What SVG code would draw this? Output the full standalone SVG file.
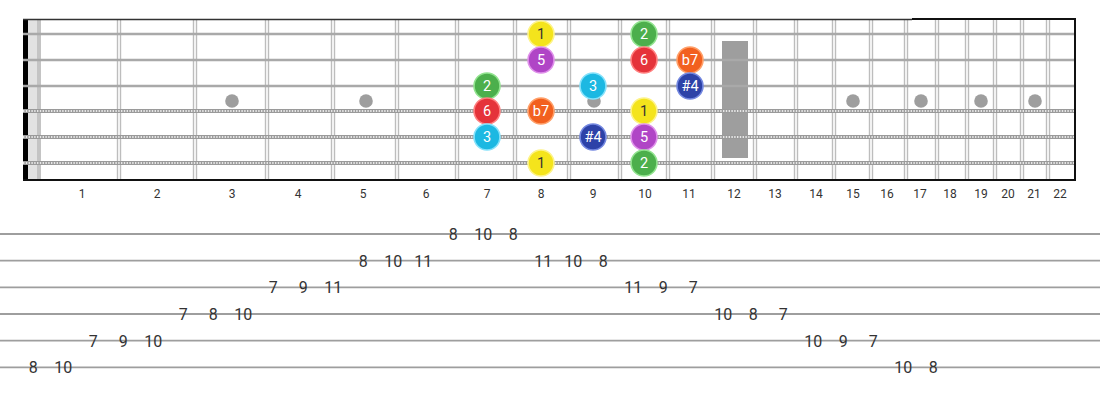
<svg xmlns="http://www.w3.org/2000/svg" width="1100" height="400" viewBox="0 0 1100 400">
<style>
.fw{stroke:#bdbdbd;stroke-width:1.4}
.plain{stroke:#a9a9a9;stroke-width:2.6}
.wound{stroke:#9a9a9a;stroke-width:4}
.woundd{stroke:#e6e6e6;stroke-width:2;stroke-dasharray:1.4 1.4}
.dot{fill:#9e9e9e}
.fn{font-family:Roboto,"Liberation Sans",sans-serif;font-size:12px;fill:#333;text-anchor:middle}
.nt{font-family:Roboto,"Liberation Sans",sans-serif;font-size:14.5px;fill:#fff;text-anchor:middle}
.dk{fill:#333}
.tl{stroke:#9e9e9e;stroke-width:1.8}
.tn{font-family:Roboto,"Liberation Sans",sans-serif;font-size:16px;fill:#333;text-anchor:middle}
.c1{fill:#f4e41c;stroke:#fdf38a;stroke-width:1.6}
.c2{fill:#4caf4c;stroke:#92e38f;stroke-width:1.6}
.c3{fill:#1cb8e2;stroke:#86e2fb;stroke-width:1.6}
.c4{fill:#2d42a8;stroke:#7488e0;stroke-width:1.6}
.c5{fill:#b045c6;stroke:#df90ea;stroke-width:1.6}
.c6{fill:#e5333a;stroke:#ff8080;stroke-width:1.6}
.c7{fill:#f2601f;stroke:#ffa06a;stroke-width:1.6}
</style>
<rect width="1100" height="400" fill="#fff"/>
<g id="fretboard">
<rect x="28" y="20" width="13" height="160" fill="#e2e2e2"/>
<rect x="37" y="20" width="4" height="160" fill="#c4c4c4"/>
<rect x="23" y="19" width="5" height="162" fill="#000"/>
<g id="frets">
<line class="fw" x1="117.5" y1="20" x2="117.5" y2="180"/><line class="fw" x1="120.5" y1="20" x2="120.5" y2="180"/>
<line class="fw" x1="193.5" y1="20" x2="193.5" y2="180"/><line class="fw" x1="196.5" y1="20" x2="196.5" y2="180"/>
<line class="fw" x1="265.5" y1="20" x2="265.5" y2="180"/><line class="fw" x1="268.5" y1="20" x2="268.5" y2="180"/>
<line class="fw" x1="331.5" y1="20" x2="331.5" y2="180"/><line class="fw" x1="334.5" y1="20" x2="334.5" y2="180"/>
<line class="fw" x1="395.5" y1="20" x2="395.5" y2="180"/><line class="fw" x1="398.5" y1="20" x2="398.5" y2="180"/>
<line class="fw" x1="455.5" y1="20" x2="455.5" y2="180"/><line class="fw" x1="458.5" y1="20" x2="458.5" y2="180"/>
<line class="fw" x1="513.5" y1="20" x2="513.5" y2="180"/><line class="fw" x1="516.5" y1="20" x2="516.5" y2="180"/>
<line class="fw" x1="567.5" y1="20" x2="567.5" y2="180"/><line class="fw" x1="570.5" y1="20" x2="570.5" y2="180"/>
<line class="fw" x1="618.5" y1="20" x2="618.5" y2="180"/><line class="fw" x1="621.5" y1="20" x2="621.5" y2="180"/>
<line class="fw" x1="666.5" y1="20" x2="666.5" y2="180"/><line class="fw" x1="669.5" y1="20" x2="669.5" y2="180"/>
<line class="fw" x1="711.5" y1="20" x2="711.5" y2="180"/><line class="fw" x1="714.5" y1="20" x2="714.5" y2="180"/>
<line class="fw" x1="753.5" y1="20" x2="753.5" y2="180"/><line class="fw" x1="756.5" y1="20" x2="756.5" y2="180"/>
<line class="fw" x1="794.5" y1="20" x2="794.5" y2="180"/><line class="fw" x1="797.5" y1="20" x2="797.5" y2="180"/>
<line class="fw" x1="832.5" y1="20" x2="832.5" y2="180"/><line class="fw" x1="835.5" y1="20" x2="835.5" y2="180"/>
<line class="fw" x1="869.5" y1="20" x2="869.5" y2="180"/><line class="fw" x1="872.5" y1="20" x2="872.5" y2="180"/>
<line class="fw" x1="904.5" y1="20" x2="904.5" y2="180"/><line class="fw" x1="907.5" y1="20" x2="907.5" y2="180"/>
<line class="fw" x1="935.5" y1="20" x2="935.5" y2="180"/><line class="fw" x1="938.5" y1="20" x2="938.5" y2="180"/>
<line class="fw" x1="965.5" y1="20" x2="965.5" y2="180"/><line class="fw" x1="968.5" y1="20" x2="968.5" y2="180"/>
<line class="fw" x1="993.5" y1="20" x2="993.5" y2="180"/><line class="fw" x1="996.5" y1="20" x2="996.5" y2="180"/>
<line class="fw" x1="1020.5" y1="20" x2="1020.5" y2="180"/><line class="fw" x1="1023.5" y1="20" x2="1023.5" y2="180"/>
<line class="fw" x1="1046.5" y1="20" x2="1046.5" y2="180"/><line class="fw" x1="1049.5" y1="20" x2="1049.5" y2="180"/>
</g>
<g id="inlays">
<circle class="dot" cx="232" cy="101" r="6.8"/>
<circle class="dot" cx="366" cy="101" r="6.8"/>
<circle class="dot" cx="594" cy="101" r="6.8"/>
<rect class="dot" x="722" y="41" width="26" height="117"/>
<circle class="dot" cx="853" cy="101" r="6.8"/>
<circle class="dot" cx="921" cy="101" r="6.8"/>
<circle class="dot" cx="981" cy="101" r="6.8"/>
<circle class="dot" cx="1035" cy="101" r="6.8"/>
</g>
<g id="strings">
<line class="plain" x1="23" y1="34" x2="1075" y2="34"/>
<line class="plain" x1="23" y1="60" x2="1075" y2="60"/>
<line class="plain" x1="23" y1="86" x2="1075" y2="86"/>
<line class="wound" x1="23" y1="111" x2="1075" y2="111"/><line class="woundd" x1="23" y1="111" x2="1075" y2="111"/>
<line class="wound" x1="23" y1="137" x2="1075" y2="137"/><line class="woundd" x1="23" y1="137" x2="1075" y2="137"/>
<line class="wound" x1="23" y1="163" x2="1075" y2="163"/><line class="woundd" x1="23" y1="163" x2="1075" y2="163"/>
</g>
<line x1="23" y1="19.5" x2="912" y2="19.5" stroke="#333" stroke-width="1.6"/>
<line x1="912" y1="19" x2="1076" y2="19" stroke="#111" stroke-width="2"/>
<line x1="23" y1="180" x2="1076" y2="180" stroke="#111" stroke-width="2"/>
<line x1="1075" y1="18" x2="1075" y2="181" stroke="#111" stroke-width="2"/>
</g>
<g id="fret-numbers">
<text class="fn" x="82" y="198">1</text><text class="fn" x="157" y="198">2</text><text class="fn" x="232" y="198">3</text><text class="fn" x="298" y="198">4</text><text class="fn" x="363" y="198">5</text><text class="fn" x="426" y="198">6</text><text class="fn" x="487" y="198">7</text><text class="fn" x="541" y="198">8</text><text class="fn" x="593" y="198">9</text><text class="fn" x="645" y="198">10</text><text class="fn" x="689" y="198">11</text><text class="fn" x="734" y="198">12</text><text class="fn" x="775" y="198">13</text><text class="fn" x="816" y="198">14</text><text class="fn" x="853" y="198">15</text><text class="fn" x="887" y="198">16</text><text class="fn" x="920" y="198">17</text><text class="fn" x="950" y="198">18</text><text class="fn" x="981" y="198">19</text><text class="fn" x="1008" y="198">20</text><text class="fn" x="1034" y="198">21</text><text class="fn" x="1060" y="198">22</text>
</g>
<g id="notes">
<g id="n-s1-f8"><circle class="c1" cx="541" cy="34" r="13"/><text class="nt dk" x="541" y="39">1</text></g>
<g id="n-s1-f10"><circle class="c2" cx="644" cy="34" r="13"/><text class="nt" x="644" y="39">2</text></g>
<g id="n-s2-f8"><circle class="c5" cx="541" cy="60" r="13"/><text class="nt" x="541" y="65">5</text></g>
<g id="n-s2-f10"><circle class="c6" cx="644" cy="60" r="13"/><text class="nt" x="644" y="65">6</text></g>
<g id="n-s2-f11"><circle class="c7" cx="690" cy="60" r="13"/><text class="nt" x="690" y="65">b7</text></g>
<g id="n-s3-f7"><circle class="c2" cx="487" cy="86" r="13"/><text class="nt" x="487" y="91">2</text></g>
<g id="n-s3-f9"><circle class="c3" cx="593" cy="86" r="13"/><text class="nt" x="593" y="91">3</text></g>
<g id="n-s3-f11"><circle class="c4" cx="690" cy="86" r="13"/><text class="nt" x="690" y="91">#4</text></g>
<g id="n-s4-f7"><circle class="c6" cx="487" cy="111" r="13"/><text class="nt" x="487" y="116">6</text></g>
<g id="n-s4-f8"><circle class="c7" cx="541" cy="111" r="13"/><text class="nt" x="541" y="116">b7</text></g>
<g id="n-s4-f10"><circle class="c1" cx="644" cy="111" r="13"/><text class="nt dk" x="644" y="116">1</text></g>
<g id="n-s5-f7"><circle class="c3" cx="487" cy="137" r="13"/><text class="nt" x="487" y="142">3</text></g>
<g id="n-s5-f9"><circle class="c4" cx="593" cy="137" r="13"/><text class="nt" x="593" y="142">#4</text></g>
<g id="n-s5-f10"><circle class="c5" cx="644" cy="137" r="13"/><text class="nt" x="644" y="142">5</text></g>
<g id="n-s6-f8"><circle class="c1" cx="541" cy="163" r="13"/><text class="nt dk" x="541" y="168">1</text></g>
<g id="n-s6-f10"><circle class="c2" cx="644" cy="163" r="13"/><text class="nt" x="644" y="168">2</text></g>
</g>
<g id="tab">
<line class="tl" x1="0" y1="234" x2="1100" y2="234"/>
<line class="tl" x1="0" y1="260.7" x2="1100" y2="260.7"/>
<line class="tl" x1="0" y1="287.3" x2="1100" y2="287.3"/>
<line class="tl" x1="0" y1="314" x2="1100" y2="314"/>
<line class="tl" x1="0" y1="340.7" x2="1100" y2="340.7"/>
<line class="tl" x1="0" y1="367.3" x2="1100" y2="367.3"/>
<text class="tn" x="33.3" y="373">8</text><text class="tn" x="63.3" y="373">10</text>
<text class="tn" x="93.3" y="346.5">7</text><text class="tn" x="123.3" y="346.5">9</text><text class="tn" x="153.3" y="346.5">10</text>
<text class="tn" x="183.3" y="319.8">7</text><text class="tn" x="213.3" y="319.8">8</text><text class="tn" x="243.3" y="319.8">10</text>
<text class="tn" x="273.3" y="293">7</text><text class="tn" x="303.3" y="293">9</text><text class="tn" x="333.3" y="293">11</text>
<text class="tn" x="363.3" y="266.5">8</text><text class="tn" x="393.3" y="266.5">10</text><text class="tn" x="423.3" y="266.5">11</text>
<text class="tn" x="453.3" y="239.8">8</text><text class="tn" x="483.3" y="239.8">10</text><text class="tn" x="513.3" y="239.8">8</text>
<text class="tn" x="543.3" y="266.5">11</text><text class="tn" x="573.3" y="266.5">10</text><text class="tn" x="603.3" y="266.5">8</text>
<text class="tn" x="633.3" y="293">11</text><text class="tn" x="663.3" y="293">9</text><text class="tn" x="693.3" y="293">7</text>
<text class="tn" x="723.3" y="319.8">10</text><text class="tn" x="753.3" y="319.8">8</text><text class="tn" x="783.3" y="319.8">7</text>
<text class="tn" x="813.3" y="346.5">10</text><text class="tn" x="843.3" y="346.5">9</text><text class="tn" x="873.3" y="346.5">7</text>
<text class="tn" x="903.3" y="373">10</text><text class="tn" x="933.3" y="373">8</text>
</g>
</svg>
